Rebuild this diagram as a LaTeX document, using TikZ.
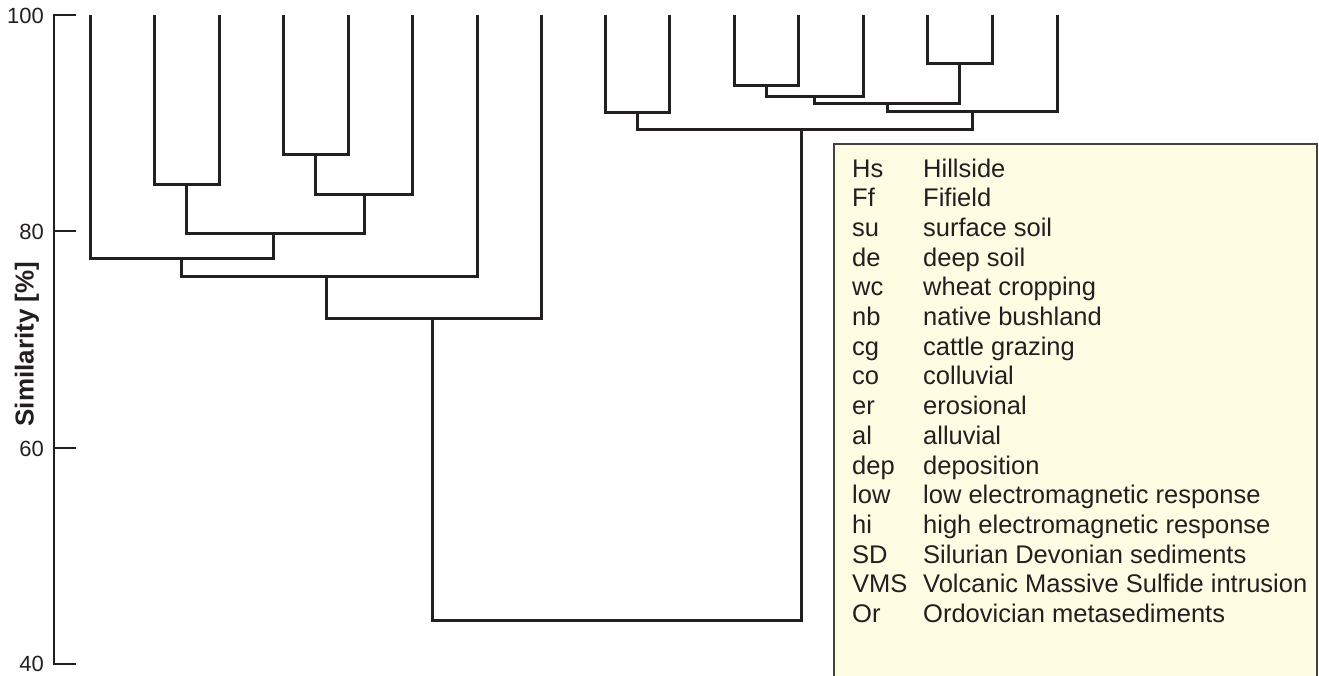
\documentclass[tikz,border=0pt]{standalone}
\usepackage{fontspec}
\setmainfont{Liberation Sans}
\definecolor{ink}{HTML}{231F20}
\definecolor{cream}{HTML}{FEFCE2}
\begin{document}
\begin{tikzpicture}[x=1pt,y=-1pt,
  branch/.style={draw=ink,line width=3pt},
  axisline/.style={draw=ink,line width=1.8pt},
  ticklab/.style={anchor=east,inner sep=0pt,text=ink,font=\fontsize{22}{26}\selectfont},
  abbr/.style={anchor=base west,inner sep=0pt,text=ink,font=\fontsize{25.5}{30}\selectfont},
  desc/.style={anchor=base west,inner sep=0pt,text=ink,font=\fontsize{25.5}{30}\selectfont},
  legendbox/.style={draw=ink!85,fill=cream,line width=2pt}]
\clip (0,0) rectangle (1319,675);
% axis
\coordinate (ytop) at (54,15);
\coordinate (ybot) at (54,664);
\draw[axisline] (76,15) -- (ytop) -- (ybot) -- (76,664);
\draw[axisline] (54,231.3) -- (76,231.3);
\draw[axisline] (54,447.7) -- (76,447.7);
\node[ticklab] (t100) at (44,16) {100};
\node[ticklab] (t80) at (44,232) {80};
\node[ticklab] (t60) at (44,448.5) {60};
\node[ticklab] (t40) at (44,664) {40};
\node[rotate=90,anchor=base,inner sep=0pt,text=ink,font=\bfseries\fontsize{26}{30}\selectfont] (ytitle) at (33.5,344) {Similarity [\%]};
% leaves
\foreach \i/\x in {0/90,1/154.5,2/219,3/283.5,4/348,5/412.5,6/477,7/541,8/605,9/669,10/734,11/798,12/863,13/927,14/992,15/1057}
  \coordinate (L\i) at (\x,15);
% merge points
\coordinate (A) at (186.75,184);
\coordinate (B) at (315.75,154);
\coordinate (C) at (364,194);
\coordinate (D) at (273,233);
\coordinate (E) at (181,258);
\coordinate (F) at (326,276);
\coordinate (G) at (432,318);
\coordinate (H) at (637,112);
\coordinate (I) at (766,85);
\coordinate (J) at (814.5,96);
\coordinate (K) at (959.5,63);
\coordinate (M) at (887,103);
\coordinate (N) at (972,111);
\coordinate (P) at (801,129);
\coordinate (R) at (616,620);
% branches
\draw[branch] (L1) |- (A) -| (L2);
\draw[branch] (L3) |- (B) -| (L4);
\draw[branch] (B) |- (C) -| (L5);
\draw[branch] (A) |- (D) -| (C);
\draw[branch] (L0) |- (E) -| (D);
\draw[branch] (E) |- (F) -| (L6);
\draw[branch] (F) |- (G) -| (L7);
\draw[branch] (L8) |- (H) -| (L9);
\draw[branch] (L10) |- (I) -| (L11);
\draw[branch] (I) |- (J) -| (L12);
\draw[branch] (L13) |- (K) -| (L14);
\draw[branch] (J) |- (M) -| (K);
\draw[branch] (M) |- (N) -| (L15);
\draw[branch] (H) |- (P) -| (N);
\draw[branch] (G) |- (R) -| (P);
% legend
\draw[legendbox] (834,144) rectangle (1317,690);
\foreach \i/\a/\d in {0/Hs/Hillside,1/Ff/Fifield,2/su/surface soil,3/de/deep soil,4/wc/wheat cropping,5/nb/native bushland,6/cg/cattle grazing,7/co/colluvial,8/er/erosional,9/al/alluvial,10/dep/deposition,11/low/low electromagnetic response,12/hi/high electromagnetic response,13/SD/Silurian Devonian sediments,14/VMS/Volcanic Massive Sulfide intrusion,15/Or/Ordovician metasediments}{
  \node[abbr] (a\i) at (852,177+29.7*\i) {\a};
  \node[desc] (d\i) at (923,177+29.7*\i) {\d};
}
\end{tikzpicture}
\end{document}
